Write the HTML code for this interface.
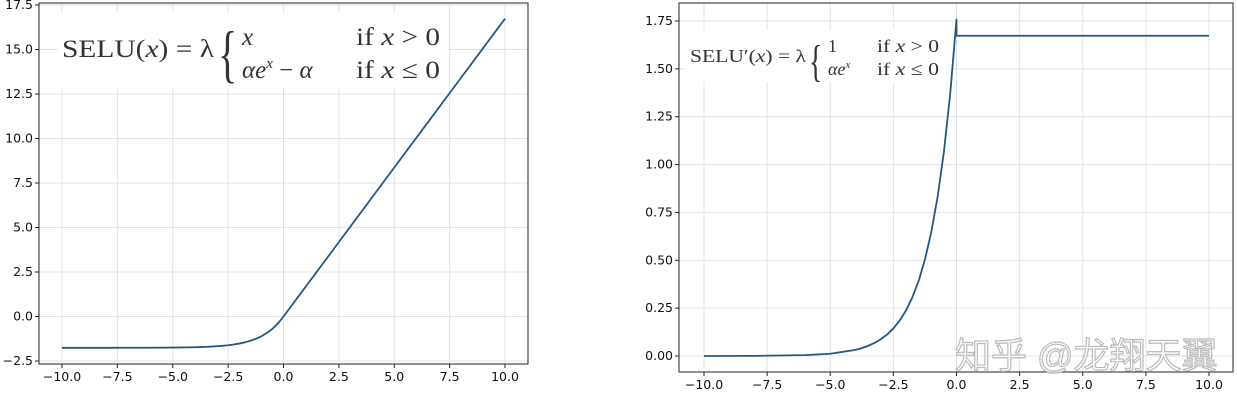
<!DOCTYPE html>
<html><head><meta charset="utf-8">
<style>
html,body{margin:0;padding:0;background:#fff;width:1237px;height:400px;overflow:hidden}
svg{display:block}
#chart text{font-family:"DejaVu Sans","Liberation Sans",sans-serif;font-size:12.5px;fill:#111}
.f{font-family:"Liberation Serif","DejaVu Serif",serif;fill:#333}
.wm{font-family:"Liberation Sans","Noto Sans CJK SC",sans-serif;font-size:36px;fill:#fff;stroke:#b0b0b0;stroke-width:1.2;opacity:.85}
</style></head>
<body>
<svg id="chart" width="1237" height="400" xmlns="http://www.w3.org/2000/svg"></svg>
<script>
const xTicks=[-10,-7.5,-5,-2.5,0,2.5,5,7.5,10];
const xTickLabels=["\u221210.0","\u22127.5","\u22125.0","\u22122.5","0.0","2.5","5.0","7.5","10.0"];
const leftYTicks=[-2.5,0,2.5,5,7.5,10,12.5,15,17.5];
const leftYTickLabels=["\u22122.5","0.0","2.5","5.0","7.5","10.0","12.5","15.0","17.5"];
const rightYTicks=[0,0.25,0.5,0.75,1,1.25,1.5,1.75];
const rightYTickLabels=["0.00","0.25","0.50","0.75","1.00","1.25","1.50","1.75"];
const seluX=[-10,-8,-6,-5,-4,-3.75,-3.5,-3.25,-3,-2.75,-2.5,-2.25,-2,-1.75,-1.5,-1.25,-1,-0.75,-0.5,-0.25,0,2.5,5,7.5,10];
const seluY=[-1.758,-1.758,-1.754,-1.746,-1.726,-1.717,-1.705,-1.690,-1.671,-1.646,-1.614,-1.573,-1.520,-1.453,-1.366,-1.254,-1.111,-0.928,-0.692,-0.389,0,4.18,8.37,12.55,16.73];
const derivX=[-10,-8,-6,-5,-4,-3.75,-3.5,-3.25,-3,-2.75,-2.5,-2.25,-2,-1.75,-1.5,-1.25,-1,-0.75,-0.5,-0.25,0,0,10];
const derivY=[0.0001,0.0006,0.0044,0.0118,0.032,0.041,0.053,0.068,0.0875,0.112,0.144,0.185,0.238,0.306,0.392,0.504,0.647,0.830,1.066,1.369,1.758,1.673,1.673];

const NS="http://www.w3.org/2000/svg";
const svg=document.getElementById('chart');
function mk(tag,attrs,parent){const e=document.createElementNS(NS,tag);for(const k in attrs)e.setAttribute(k,attrs[k]);(parent||svg).appendChild(e);return e;}

function drawPanel(cfg){
  const g=mk('g',{});
  
  
  const sx=v=>cfg.x0px+(v-(-10))*(cfg.x1px-cfg.x0px)/20;
  const sy=v=>cfg.y0px+(v-cfg.y0v)*(cfg.y1px-cfg.y0px)/(cfg.y1v-cfg.y0v);
  xTicks.forEach((t,i)=>{
    const l=mk('line',{x1:sx(t),x2:sx(t),y1:cfg.top,y2:cfg.bottom,stroke:'#e1e3ea','stroke-width':1},g);
    
    
  });
  cfg.yTicks.forEach((t,i)=>{
    const l=mk('line',{x1:cfg.left,x2:cfg.right,y1:sy(t),y2:sy(t),stroke:'#e1e3ea','stroke-width':1},g);
    
    
  });
  const fb=mk('rect',{x:cfg.fbox[0],y:cfg.fbox[1],width:cfg.fbox[2],height:cfg.fbox[3],fill:'#fff'},g);
  
  
  let d='';
  cfg.xs.forEach((x,i)=>{d+=(i?'L':'M')+sx(x).toFixed(2)+','+sy(cfg.ys[i]).toFixed(2);});
  const p=mk('path',{d:d,fill:'none',stroke:'#25577f','stroke-width':1.8,'stroke-linejoin':'round'},g);
  
  
  const fr=mk('rect',{x:cfg.left,y:cfg.top,width:cfg.right-cfg.left,height:cfg.bottom-cfg.top,fill:'none',stroke:'#222','stroke-width':1},g);
  
  
  xTicks.forEach((t,i)=>{
    mk('line',{x1:sx(t),x2:sx(t),y1:cfg.bottom,y2:cfg.bottom+4,stroke:'#222'},g);
    const tx=mk('text',{x:sx(t),y:cfg.bottom+17,'text-anchor':'middle'},g);
    tx.textContent=xTickLabels[i];
    
    
  });
  cfg.yTicks.forEach((t,i)=>{
    mk('line',{x1:cfg.left-4,x2:cfg.left,y1:sy(t),y2:sy(t),stroke:'#222'},g);
    const tx=mk('text',{x:cfg.left-6,y:sy(t)+4,'text-anchor':'end'},g);
    tx.textContent=cfg.yLabels[i];
    
    
  });
  return g;
}

drawPanel({name:'selu-panel',seriesName:'selu-line',left:39,right:528,top:3,bottom:364,
  x0px:62,x1px:505,y0v:0,y0px:316.5,y1v:15,y1px:49.5,yTicks:leftYTicks,yLabels:leftYTickLabels,
  fbox:[58,12,390,76],xs:seluX,ys:seluY});
drawPanel({name:'selu-derivative-panel',seriesName:'selu-derivative-line',left:679,right:1233,top:3,bottom:372,
  x0px:704,x1px:1209,y0v:0,y0px:356,y1v:1.75,y1px:21,yTicks:rightYTicks,yLabels:rightYTickLabels,
  fbox:[685,30,265,52],xs:derivX,ys:derivY});
</script>
<svg width="1237" height="400" style="position:absolute;left:0;top:0" xmlns="http://www.w3.org/2000/svg">
  <g>
    <text class="f" x="62" y="57" style="font-size:25px" textLength="152" lengthAdjust="spacingAndGlyphs">SELU(<tspan style="font-style:italic">x</tspan>) = λ</text>
    <text class="f" x="0" y="0" style="font-size:40px" transform="translate(218,75) scale(1,1.6)">{</text>
    <text class="f" x="242" y="45" style="font-size:25px;font-style:italic">x</text>
    <text class="f" x="242" y="78" style="font-size:25px"><tspan style="font-style:italic">αe</tspan><tspan style="font-size:15px;font-style:italic" dy="-10">x</tspan><tspan dy="10"> − </tspan><tspan style="font-style:italic">α</tspan></text>
    <text class="f" x="356" y="45" style="font-size:25px" textLength="84" lengthAdjust="spacingAndGlyphs">if <tspan style="font-style:italic">x</tspan> &gt; 0</text>
    <text class="f" x="356" y="78" style="font-size:25px" textLength="84" lengthAdjust="spacingAndGlyphs">if <tspan style="font-style:italic">x</tspan> ≤ 0</text>
  </g>
  <g>
    <text class="f" x="690" y="62" style="font-size:18px" textLength="116" lengthAdjust="spacingAndGlyphs">SELU′(<tspan style="font-style:italic">x</tspan>) = λ</text>
    <text class="f" x="0" y="0" style="font-size:28px" transform="translate(809,76) scale(1,1.6)">{</text>
    <text class="f" x="828" y="52" style="font-size:18px">1</text>
    <text class="f" x="828" y="75" style="font-size:18px"><tspan style="font-style:italic">αe</tspan><tspan style="font-size:11px;font-style:italic" dy="-7">x</tspan></text>
    <text class="f" x="877" y="52" style="font-size:18px" textLength="62" lengthAdjust="spacingAndGlyphs">if <tspan style="font-style:italic">x</tspan> &gt; 0</text>
    <text class="f" x="877" y="75" style="font-size:18px" textLength="62" lengthAdjust="spacingAndGlyphs">if <tspan style="font-style:italic">x</tspan> ≤ 0</text>
  </g>
  <text class="wm" x="955" y="368">知乎 @龙翔天翼</text>
</svg>
</body></html>
